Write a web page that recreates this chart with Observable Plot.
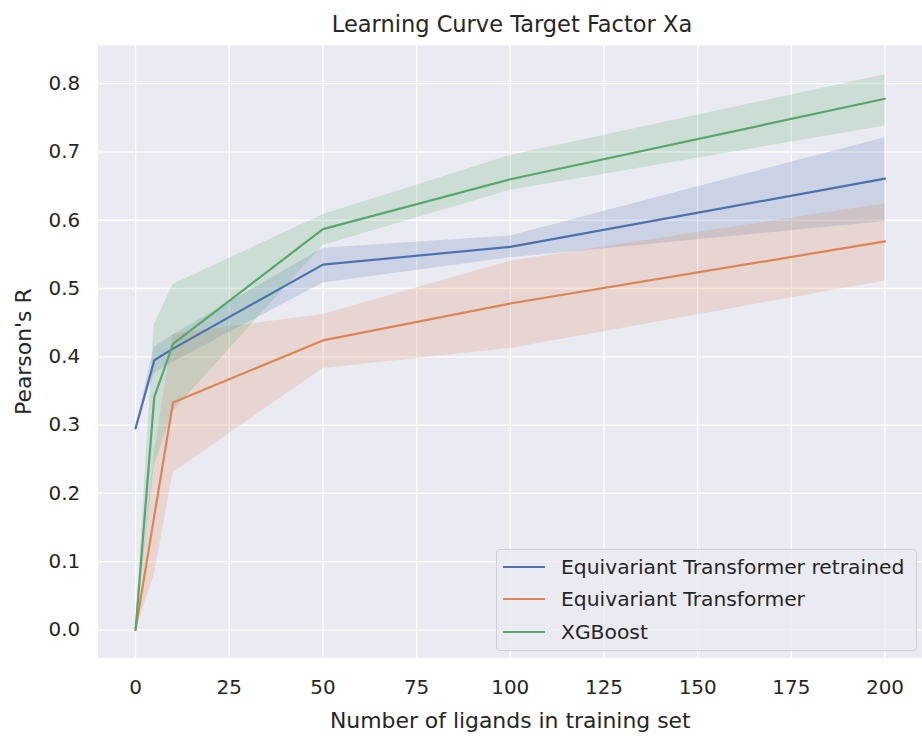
<!DOCTYPE html>
<html>
<head>
<meta charset="utf-8">
<script src="https://cdn.jsdelivr.net/npm/d3@7"></script>
<script src="https://cdn.jsdelivr.net/npm/@observablehq/plot@0.6"></script>
<style>
  html, body { margin: 0; padding: 0; background: #ffffff; }
  body { width: 922px; height: 736px; overflow: hidden; position: relative; font-family: "DejaVu Sans", sans-serif; color: #262626; }
  #title { position: absolute; left: 98px; width: 828px; top: 11px; text-align: center; font-size: 22.5px; line-height: normal; }
  #chart { position: absolute; left: 0; top: 45px; }
  #legend { position: absolute; left: 496px; top: 549px; width: 419px; height: 100px;
            background: rgba(234,234,242,0.8); border: 1px solid #cfcfd6; border-radius: 4px; }
  .item { position: absolute; left: 0; height: 24px; display: flex; align-items: center; font-size: 20.3px; }
  .swatch { width: 42px; height: 0; border-top: 2.2px solid; margin-left: 6px; margin-right: 16px; }
</style>
</head>
<body>
<div id="title">Learning Curve Target Factor Xa</div>
<div id="chart"></div>
<div id="legend"></div>
<script>
// Training-set sizes (x) and Pearson's R per model: mean and confidence band
const sizes = [0, 5, 10, 50, 100, 200];

const retrainedMean = [0.295, 0.395, 0.412, 0.535, 0.561, 0.661];
const retrainedLow  = [0.295, 0.376, 0.392, 0.508, 0.545, 0.598];
const retrainedHigh = [0.295, 0.414, 0.432, 0.559, 0.577, 0.721];

const transformerMean = [0.0, 0.167, 0.333, 0.424, 0.478, 0.569];
const transformerLow  = [0.0, 0.080, 0.230, 0.383, 0.412, 0.511];
const transformerHigh = [0.0, 0.260, 0.433, 0.462, 0.540, 0.624];

const xgbMean = [0.0, 0.341, 0.419, 0.587, 0.660, 0.778];
const xgbLow  = [0.0, 0.240, 0.320, 0.563, 0.644, 0.738];
const xgbHigh = [0.0, 0.447, 0.506, 0.608, 0.695, 0.813];

const seriesNames = ["Equivariant Transformer retrained", "Equivariant Transformer", "XGBoost"];
const seriesColors = ["#4c72b0", "#dd8452", "#55a868"];

const xTicks = [0, 25, 50, 75, 100, 125, 150, 175, 200];
const yTicks = [0.0, 0.1, 0.2, 0.3, 0.4, 0.5, 0.6, 0.7, 0.8];

// Long-format rows built from the arrays above
const sets = [
  [retrainedMean, retrainedLow, retrainedHigh],
  [transformerMean, transformerLow, transformerHigh],
  [xgbMean, xgbLow, xgbHigh]
];
const rows = [];
sets.forEach(([m, lo, hi], k) => {
  sizes.forEach((s, i) => rows.push({series: seriesNames[k], n: s, r: m[i], lo: lo[i], hi: hi[i]}));
});

const color = {domain: seriesNames, range: seriesColors};

const chart = Plot.plot({
  width: 926,
  height: 691,
  marginLeft: 98,
  marginRight: 0,
  marginTop: 0,
  marginBottom: 76,
  style: {fontFamily: "DejaVu Sans, sans-serif", fontSize: "20px", color: "#262626", background: "transparent"},
  x: {domain: [-10, 210]},
  y: {domain: [-0.041, 0.856]},
  color,
  marks: [
    Plot.frame({fill: "#eaeaf2", stroke: null}),
    Plot.gridX(xTicks, {stroke: "#ffffff", strokeOpacity: 1, strokeWidth: 1.3}),
    Plot.gridY(yTicks, {stroke: "#ffffff", strokeOpacity: 1, strokeWidth: 1.3}),
    Plot.areaY(rows, {x: "n", y1: "lo", y2: "hi", z: "series", fill: "series", fillOpacity: 0.2, curve: "linear"}),
    Plot.line(rows, {x: "n", y: "r", z: "series", stroke: "series", strokeWidth: 2.2, curve: "linear"}),
    Plot.axisX(xTicks, {tickSize: 0, tickPadding: 22, fontSize: 20, label: null, tickFormat: d3.format("d")}),
    Plot.axisY(yTicks, {tickSize: 0, tickPadding: 18, fontSize: 20, label: null, tickFormat: d3.format(".1f")}),
    Plot.axisX({tickSize: 0, ticks: [], label: "Number of ligands in training set", fontSize: 22,
      labelAnchor: "center", labelArrow: "none", labelOffset: 70}),
    Plot.axisY({tickSize: 0, ticks: [], label: "Pearson's R", fontSize: 22,
      labelAnchor: "center", labelArrow: "none", labelOffset: 83})
  ]
});
document.getElementById("chart").appendChild(chart);

// Legend entries
const legend = document.getElementById("legend");
const rowTops = [5, 37, 70];
seriesNames.forEach((name, i) => {
  const item = document.createElement("div");
  item.className = "item";
  item.style.top = rowTops[i] + "px";
  const sw = document.createElement("span");
  sw.className = "swatch";
  sw.style.borderTopColor = seriesColors[i];
  const tx = document.createElement("span");
  tx.textContent = name;
  item.appendChild(sw);
  item.appendChild(tx);
  legend.appendChild(item);
});
</script>
</body>
</html>
